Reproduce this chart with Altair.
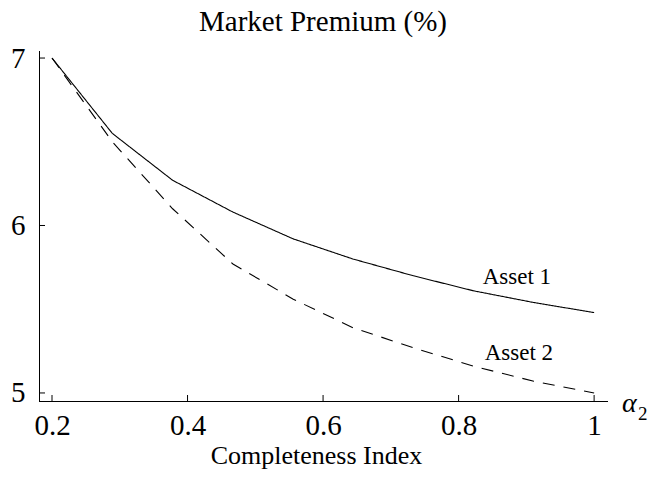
import altair as alt
import pandas as pd

alpha = [0.2, 0.289, 0.378, 0.467, 0.556, 0.644, 0.733, 0.822, 0.911, 1.0]
asset1 = [7.0, 6.55, 6.27, 6.08, 5.92, 5.80, 5.70, 5.61, 5.54, 5.48]
asset2 = [7.0, 6.50, 6.10, 5.77, 5.56, 5.39, 5.27, 5.16, 5.07, 5.00]
x_ticks = [0.2, 0.4, 0.6, 0.8, 1.0]
y_ticks = [5, 6, 7]

rows = []
for a, v1, v2 in zip(alpha, asset1, asset2):
    rows.append({"alpha": a, "premium": v1, "asset": "Asset 1"})
    rows.append({"alpha": a, "premium": v2, "asset": "Asset 2"})
df = pd.DataFrame(rows)

labels = pd.DataFrame({
    "alpha": [0.886, 0.889],
    "premium": [5.69, 5.24],
    "text": ["Asset 1", "Asset 2"],
})

W, H = 568, 350
xs = alt.Scale(domain=[0.1808, 1.019], nice=False, zero=False)
ys = alt.Scale(domain=[4.952, 7.042], nice=False, zero=False)
FONT = "Liberation Serif"

ax_x = alt.Axis(
    values=x_ticks, title="Completeness Index", domainColor="black",
    domainWidth=1, tickSize=0, labelPadding=10, labelFont=FONT,
    labelFontSize=29, labelColor="black", titleFont=FONT,
    titleFontSize=26, titleFontWeight="normal", titleColor="black",
    titleX=277, titleY=62, titleBaseline="alphabetic", titleAlign="center",
    grid=False, labelFlush=False, labelOverlap=False,
    labelExpr="datum.value == 1 ? '1' : format(datum.value, '.1f')")
ax_y = alt.Axis(
    values=y_ticks, title=None, domainColor="black", domainWidth=1,
    tickSize=0, labelPadding=14, labelFont=FONT, labelFontSize=29,
    labelColor="black", grid=False, labelFlush=False,
    labelOverlap=False, labelExpr="format(datum.value, '.0f')")

lines = alt.Chart(df).mark_line(color="black", strokeWidth=1.1, clip=False).encode(
    x=alt.X("alpha:Q", scale=xs, axis=ax_x),
    y=alt.Y("premium:Q", scale=ys, axis=ax_y),
    strokeDash=alt.StrokeDash("asset:N", scale=alt.Scale(
        domain=["Asset 1", "Asset 2"], range=[[1, 0], [12, 9]]), legend=None),
)

xt = alt.Chart(pd.DataFrame({"alpha": x_ticks})).mark_rule(color="black", strokeWidth=1).encode(
    x=alt.X("alpha:Q", scale=xs, axis=ax_x), y=alt.value(H), y2=alt.value(H - 6))
yt = alt.Chart(pd.DataFrame({"premium": y_ticks})).mark_rule(color="black", strokeWidth=1).encode(
    y=alt.Y("premium:Q", scale=ys, axis=ax_y), x=alt.value(0), x2=alt.value(6))

txt = alt.Chart(labels).mark_text(font=FONT, fontSize=23, color="black").encode(
    x=alt.X("alpha:Q", scale=xs, axis=ax_x), y=alt.Y("premium:Q", scale=ys, axis=ax_y),
    text="text:N")

alpha_lbl = alt.Chart(pd.DataFrame({"t": ["α"]})).mark_text(
    font=FONT, fontSize=28, fontStyle="italic", color="black", align="left",
    baseline="alphabetic").encode(
    x=alt.value(W + 15), y=alt.value(H + 11), text="t:N")
sub_lbl = alt.Chart(pd.DataFrame({"t": ["2"]})).mark_text(
    font=FONT, fontSize=19, color="black", align="left",
    baseline="alphabetic").encode(
    x=alt.value(W + 31), y=alt.value(H + 19), text="t:N")

chart = alt.layer(lines, xt, yt, txt, alpha_lbl, sub_lbl).properties(
    width=W, height=H,
    title=alt.TitleParams("Market Premium  (%)", font=FONT, fontSize=29,
                          fontWeight="normal", color="black", offset=7,
                          anchor="middle", frame="group"),
    autosize=alt.AutoSizeParams(type="none"),
    padding={"left": 31, "top": 43, "right": 43, "bottom": 68},
).configure_view(stroke=None).configure_axis(domainCap="square")

chart.save("out.html", embed_options={"renderer": "svg", "actions": False})
